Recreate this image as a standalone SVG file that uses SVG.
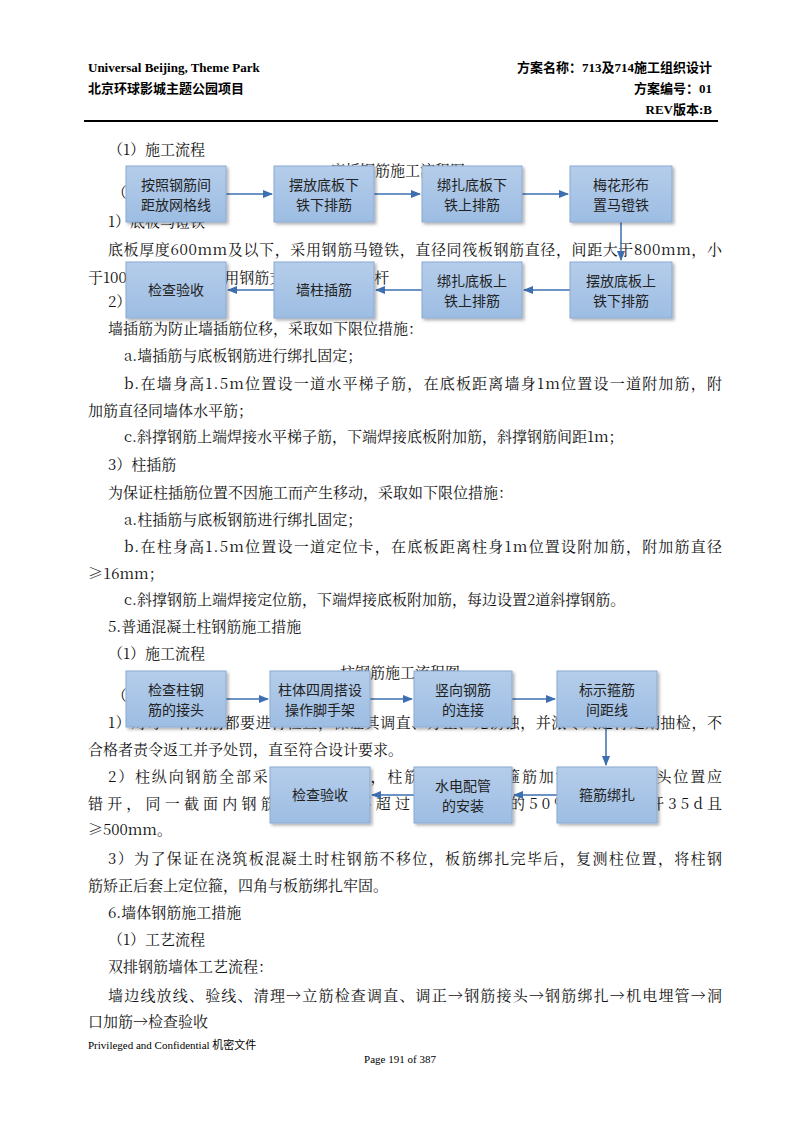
<svg xmlns="http://www.w3.org/2000/svg" width="800" height="1132" viewBox="0 0 800 1132">
<defs>
<linearGradient id="g" x1="0" y1="0" x2="0" y2="1"><stop offset="0" stop-color="#b5cdea"/><stop offset="1" stop-color="#9dbde3"/></linearGradient>
<marker id="a" viewBox="0 0 10 10" refX="9" refY="5" markerWidth="7" markerHeight="7" orient="auto"><path d="M0,1 L10,5 L0,9 z" fill="#3d6fb0"/></marker>
<filter id="s" x="-10%" y="-10%" width="130%" height="140%"><feDropShadow dx="2" dy="2" stdDeviation="1.5" flood-color="#000" flood-opacity="0.3"/></filter>
</defs>
<style>
.t{font-family:"Noto Serif CJK SC","Liberation Serif","Noto Sans CJK SC",serif;font-size:15px;fill:#111}
.h{font-family:"Liberation Serif","Noto Sans CJK SC",serif;font-weight:bold;font-size:13px;fill:#000}
.f{font-family:"Liberation Serif","Noto Sans CJK SC",serif;font-size:11px;fill:#000}
.n rect{fill:url(#g);stroke:#8aaad2;stroke-width:1;filter:url(#s)}
.n text{font-family:"Noto Sans CJK SC",sans-serif;font-size:14px;fill:#222;text-anchor:middle}
.c line{stroke:#3d6fb0;stroke-width:1.5;marker-end:url(#a)}
</style>
<rect width="800" height="1132" fill="#fff"/>
<text class="h" x="88" y="72">Universal Beijing, Theme Park</text>
<text class="h" x="88" y="93">北京环球影城主题公园项目</text>
<text class="h" x="712" y="72" text-anchor="end">方案名称：713及714施工组织设计</text>
<text class="h" x="712" y="93" text-anchor="end">方案编号：01</text>
<text class="h" x="712" y="114" text-anchor="end">REV版本:B</text>
<line x1="84" y1="121" x2="718" y2="121" stroke="#000" stroke-width="2"/>

<text class="t" x="108" y="155">（1）施工流程</text>
<text class="t" x="330" y="176">底板钢筋施工流程图</text>
<text class="t" x="112" y="198">（</text>
<text class="t" x="108" y="227">1）底板马镫铁</text>
<text class="t" x="108" y="255" textLength="614" lengthAdjust="spacing">底板厚度600mm及以下，采用钢筋马镫铁，直径同筏板钢筋直径，间距大于800mm，小</text>
<text class="t" x="88" y="283">于1000mm的底板采用钢筋支架，立柱及横杆</text>
<text class="t" x="108" y="307">2）墙插筋</text>
<text class="t" x="108" y="334">墙插筋为防止墙插筋位移，采取如下限位措施：</text>
<text class="t" x="124" y="361">a.墙插筋与底板钢筋进行绑扎固定；</text>
<text class="t" x="124" y="389" textLength="598" lengthAdjust="spacing">b.在墙身高1.5m位置设一道水平梯子筋，在底板距离墙身1m位置设一道附加筋，附</text>
<text class="t" x="88" y="416">加筋直径同墙体水平筋；</text>
<text class="t" x="124" y="442">c.斜撑钢筋上端焊接水平梯子筋，下端焊接底板附加筋，斜撑钢筋间距1m；</text>
<text class="t" x="108" y="470">3）柱插筋</text>
<text class="t" x="108" y="498">为保证柱插筋位置不因施工而产生移动，采取如下限位措施：</text>
<text class="t" x="124" y="525">a.柱插筋与底板钢筋进行绑扎固定；</text>
<text class="t" x="124" y="552" textLength="598" lengthAdjust="spacing">b.在柱身高1.5m位置设一道定位卡，在底板距离柱身1m位置设附加筋，附加筋直径</text>
<text class="t" x="88" y="579">≥16mm；</text>
<text class="t" x="124" y="605">c.斜撑钢筋上端焊接定位筋，下端焊接底板附加筋，每边设置2道斜撑钢筋。</text>
<text class="t" x="108" y="632">5.普通混凝土柱钢筋施工措施</text>
<text class="t" x="108" y="659">（1）施工流程</text>
<text class="t" x="340" y="678">柱钢筋施工流程图</text>
<text class="t" x="112" y="701">（2</text>
<text class="t" x="108" y="728" textLength="614" lengthAdjust="spacing">1）对每一种钢筋都要进行检查，保证其调直、方正、无锈蚀，并派专人进行定期抽检，不</text>
<text class="t" x="88" y="755">合格者责令返工并予处罚，直至符合设计要求。</text>
<text class="t" x="108" y="782" textLength="614" lengthAdjust="spacing">2）柱纵向钢筋全部采用直螺纹连接，柱筋绑扎完成后箍筋加密区范围内接头位置应</text>
<text class="t" x="88" y="809" textLength="634" lengthAdjust="spacing">错开，同一截面内钢筋接头面积不超过全截面面积的50%，接头错开35d且</text>
<text class="t" x="88" y="835">≥500mm。</text>
<text class="t" x="108" y="864" textLength="614" lengthAdjust="spacing">3）为了保证在浇筑板混凝土时柱钢筋不移位，板筋绑扎完毕后，复测柱位置，将柱钢</text>
<text class="t" x="88" y="891">筋矫正后套上定位箍，四角与板筋绑扎牢固。</text>
<text class="t" x="108" y="918">6.墙体钢筋施工措施</text>
<text class="t" x="108" y="945">（1）工艺流程</text>
<text class="t" x="108" y="972">双排钢筋墙体工艺流程：</text>
<text class="t" x="108" y="1001" textLength="614" lengthAdjust="spacing">墙边线放线、验线、清理→立筋检查调直、调正→钢筋接头→钢筋绑扎→机电埋管→洞</text>
<text class="t" x="88" y="1027">口加筋→检查验收</text>
<text class="f" x="88" y="1049">Privileged and Confidential 机密文件</text>
<text class="f" x="400" y="1063" text-anchor="middle">Page 191 of 387</text>

<g class="c">
<line x1="226" y1="194" x2="272" y2="194"/>
<line x1="374" y1="194" x2="420" y2="194"/>
<line x1="522" y1="194" x2="568" y2="194"/>
<line x1="621" y1="222" x2="621" y2="260"/>
<line x1="570" y1="290" x2="524" y2="290"/>
<line x1="422" y1="290" x2="376" y2="290"/>
<line x1="274" y1="290" x2="228" y2="290"/>
<line x1="226" y1="699" x2="268" y2="699"/>
<line x1="370" y1="699" x2="412" y2="699"/>
<line x1="512" y1="699" x2="555" y2="699"/>
<line x1="606" y1="727" x2="606" y2="765"/>
<line x1="557" y1="795" x2="514" y2="795"/>
<line x1="414" y1="795" x2="372" y2="795"/>
</g>

<g id="n1" class="n"><rect x="126" y="166" width="100" height="56"/><text x="176" y="190">按照钢筋间</text><text x="176" y="210">距放网格线</text></g>
<g id="n2" class="n"><rect x="274" y="166" width="100" height="56"/><text x="324" y="190">摆放底板下</text><text x="324" y="210">铁下排筋</text></g>
<g id="n3" class="n"><rect x="422" y="166" width="100" height="56"/><text x="472" y="190">绑扎底板下</text><text x="472" y="210">铁上排筋</text></g>
<g id="n4" class="n"><rect x="570" y="166" width="102" height="56"/><text x="621" y="190">梅花形布</text><text x="621" y="210">置马镫铁</text></g>
<g id="n5" class="n"><rect x="570" y="262" width="102" height="56"/><text x="621" y="286">摆放底板上</text><text x="621" y="306">铁下排筋</text></g>
<g id="n6" class="n"><rect x="422" y="262" width="100" height="56"/><text x="472" y="286">绑扎底板上</text><text x="472" y="306">铁上排筋</text></g>
<g id="n7" class="n"><rect x="274" y="262" width="100" height="56"/><text x="324" y="295">墙柱插筋</text></g>
<g id="n8" class="n"><rect x="126" y="262" width="100" height="56"/><text x="176" y="295">检查验收</text></g>

<g id="m1" class="n"><rect x="126" y="671" width="100" height="56"/><text x="176" y="695">检查柱钢</text><text x="176" y="715">筋的接头</text></g>
<g id="m2" class="n"><rect x="270" y="671" width="100" height="56"/><text x="320" y="695">柱体四周搭设</text><text x="320" y="715">操作脚手架</text></g>
<g id="m3" class="n"><rect x="414" y="671" width="98" height="56"/><text x="463" y="695">竖向钢筋</text><text x="463" y="715">的连接</text></g>
<g id="m4" class="n"><rect x="557" y="671" width="100" height="56"/><text x="607" y="695">标示箍筋</text><text x="607" y="715">间距线</text></g>
<g id="m5" class="n"><rect x="557" y="767" width="100" height="56"/><text x="607" y="800">箍筋绑扎</text></g>
<g id="m6" class="n"><rect x="414" y="767" width="98" height="56"/><text x="463" y="791">水电配管</text><text x="463" y="811">的安装</text></g>
<g id="m7" class="n"><rect x="270" y="767" width="100" height="56"/><text x="320" y="800">检查验收</text></g>
</svg>
